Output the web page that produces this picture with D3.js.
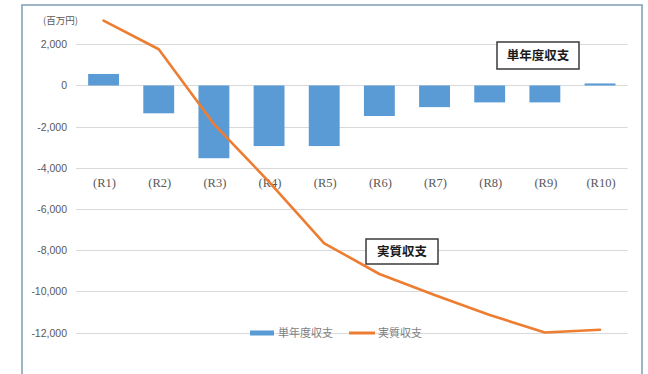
<!DOCTYPE html>
<html>
<head>
<meta charset="utf-8">
<script src="https://cdn.jsdelivr.net/npm/d3@7"></script>
<style>
  html, body { margin: 0; padding: 0; background: #fff; }
  svg { display: block; }
</style>
</head>
<body>
<svg id="chart" width="648" height="374"></svg>
<script>
// 年度区分
const categories = ["(R1)", "(R2)", "(R3)", "(R4)", "(R5)", "(R6)", "(R7)", "(R8)", "(R9)", "(R10)"];
// 単年度収支（百万円）
const annualBalance = [560, -1350, -3530, -2940, -2940, -1480, -1050, -820, -820, 100];
// 実質収支（百万円）
const realBalance = [3150, 1760, -1870, -4680, -7660, -9150, -10170, -11140, -11990, -11860];
// 縦軸目盛
const yTicks = [2000, 0, -2000, -4000, -6000, -8000, -10000, -12000];
const seriesNames = ["単年度収支", "実質収支"];
const unitLabel = "(百万円)";

const BLUE = "#5b9bd5";
const ORANGE = "#ed7d31";
const GRID = "#d9d9d9";
const TEXT = "#595959";
const CJK = "'Noto Sans CJK JP', 'Noto Sans', sans-serif";

const svg = d3.select("#chart");

// 外枠
svg.append("rect")
  .attr("x", 22).attr("y", 5)
  .attr("width", 620).attr("height", 380)
  .attr("fill", "#fff")
  .attr("stroke", "#86a3b8")
  .attr("stroke-width", 1.6);

const x = d3.scaleBand()
  .domain(categories)
  .range([76, 627.6])
  .paddingInner(0.44)
  .paddingOuter(0.22);

const y = d3.scaleLinear()
  .domain([-14000, 4000])
  .range([373.9, 3.1]);

const cx = d => x(d) + x.bandwidth() / 2;

// 目盛線
svg.append("g")
  .selectAll("line")
  .data(yTicks)
  .join("line")
  .attr("x1", 76).attr("x2", 627.6)
  .attr("y1", d => Math.round(y(d)) + 0.5)
  .attr("y2", d => Math.round(y(d)) + 0.5)
  .attr("stroke", GRID)
  .attr("stroke-width", 1);

// 縦軸ラベル
const yAxis = d3.axisLeft(y)
  .tickValues(yTicks)
  .tickFormat(d3.format(",.0f"))
  .tickSize(0)
  .tickPadding(0);

const yg = svg.append("g")
  .attr("transform", "translate(67,0)")
  .call(yAxis);
yg.select(".domain").remove();
yg.selectAll("text")
  .attr("fill", TEXT)
  .attr("font-family", "'Liberation Sans', Arial, sans-serif")
  .attr("font-size", 10.5)
  .text(d => d3.format(",.0f")(d).replace("−", "-"));

// 単位
svg.append("text")
  .attr("x", 43).attr("y", 24)
  .attr("fill", TEXT)
  .attr("font-family", CJK)
  .attr("font-size", 9.5)
  .text(unitLabel);

// 単年度収支（棒）
svg.append("g")
  .selectAll("rect")
  .data(categories.map((c, i) => ({ c, v: annualBalance[i] })))
  .join("rect")
  .attr("x", d => x(d.c))
  .attr("width", x.bandwidth())
  .attr("y", d => y(Math.max(0, d.v)))
  .attr("height", d => Math.abs(y(d.v) - y(0)))
  .attr("fill", BLUE);

// 区分ラベル
svg.append("g")
  .selectAll("text")
  .data(categories)
  .join("text")
  .attr("x", d => cx(d) + 1)
  .attr("y", 187)
  .attr("text-anchor", "middle")
  .attr("fill", TEXT)
  .attr("font-family", "'Liberation Serif', 'DejaVu Serif', serif")
  .attr("font-size", 12.5)
  .text(d => d);

// 実質収支（折れ線）
const line = d3.line()
  .x((d, i) => cx(categories[i]))
  .y(d => y(d));

svg.append("path")
  .datum(realBalance)
  .attr("d", line)
  .attr("fill", "none")
  .attr("stroke", ORANGE)
  .attr("stroke-width", 2.6)
  .attr("stroke-linejoin", "round")
  .attr("stroke-linecap", "round");

// 系列名の吹き出し
function labelBox(cxp, cyp, w, h, label) {
  const g = svg.append("g");
  g.append("rect")
    .attr("x", cxp - w / 2).attr("y", cyp - h / 2)
    .attr("width", w).attr("height", h)
    .attr("fill", "#fff")
    .attr("stroke", "#3a3a3a")
    .attr("stroke-width", 1.5);
  g.append("text")
    .attr("x", cxp).attr("y", cyp)
    .attr("dy", "0.36em")
    .attr("text-anchor", "middle")
    .attr("font-family", CJK)
    .attr("font-weight", "bold")
    .attr("font-size", 12.5)
    .attr("fill", "#1a1a1a")
    .text(label);
}
labelBox(538, 55.5, 82, 27, seriesNames[0]);
labelBox(402, 251.5, 72, 25, seriesNames[1]);

// 凡例
const legend = svg.append("g").attr("transform", "translate(250,333)");
legend.append("rect")
  .attr("x", 0).attr("y", -2.5).attr("width", 24).attr("height", 5)
  .attr("fill", BLUE);
legend.append("text")
  .attr("x", 28).attr("y", 0).attr("dy", "0.36em")
  .attr("fill", "#7f7f7f")
  .attr("font-family", CJK)
  .attr("font-size", 11)
  .text(seriesNames[0]);
legend.append("line")
  .attr("x1", 99).attr("x2", 125).attr("y1", 0).attr("y2", 0)
  .attr("stroke", ORANGE).attr("stroke-width", 3);
legend.append("text")
  .attr("x", 128).attr("y", 0).attr("dy", "0.36em")
  .attr("fill", "#7f7f7f")
  .attr("font-family", CJK)
  .attr("font-size", 11)
  .text(seriesNames[1]);
</script>
</body>
</html>
